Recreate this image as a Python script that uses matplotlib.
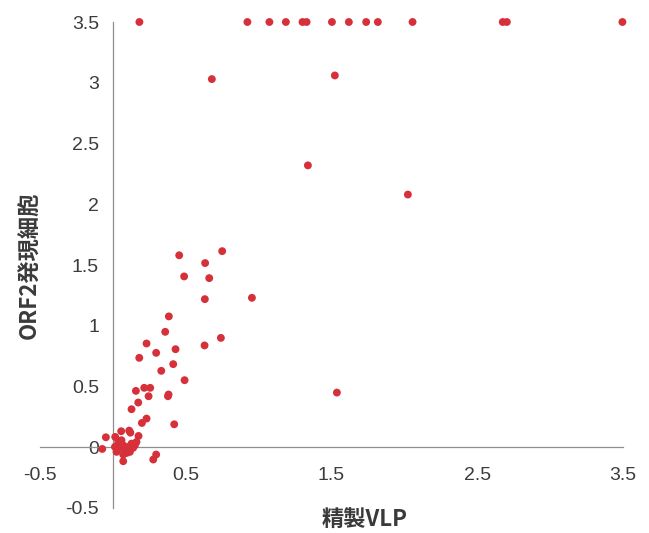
import matplotlib
matplotlib.use("Agg")
import matplotlib.pyplot as plt

# Data: purified VLP (x) vs ORF2-expressing cells (y)
vlp = [0.182, 0.923, 1.074, 1.187, 1.301, 1.329, 1.503, 1.619, 1.738, 1.818, 2.056, 2.675, 2.703, 3.496,
       0.679, 1.523, 1.338, 2.024, 0.954, 1.537,
       0.455, 0.75, 0.633, 0.489, 0.661, 0.631, 0.384, 0.359, 0.231, 0.741, 0.629, 0.430, 0.297,
       0.181, 0.414, 0.332, 0.492, 0.158, 0.215, 0.256, 0.245, 0.382, 0.378, 0.174, 0.128, 0.231,
       0.199, 0.421, -0.048, 0.057, 0.112, 0.12, 0.176, 0.016, -0.073, 0.297, 0.277, 0.071,
       0.014, 0.025, 0.048, 0.071, 0.082, 0.105, 0.117, 0.128, 0.139, 0.151, 0.162, 0.071, 0.094,
       0.037, 0.059]
orf2 = [3.5, 3.5, 3.5, 3.5, 3.5, 3.5, 3.5, 3.5, 3.5, 3.5, 3.5, 3.5, 3.5, 3.5,
        3.03, 3.06, 2.32, 2.08, 1.23, 0.45,
        1.58, 1.614, 1.516, 1.406, 1.392, 1.219, 1.077, 0.95, 0.854, 0.90, 0.838, 0.807, 0.777,
        0.736, 0.684, 0.629, 0.552, 0.464, 0.489, 0.489, 0.42, 0.434, 0.42, 0.368, 0.313, 0.236,
        0.2, 0.189, 0.082, 0.132, 0.137, 0.12, 0.093, 0.085, -0.014, -0.06, -0.101, -0.115,
        0.003, -0.038, -0.005, 0.016, -0.025, 0.003, -0.038, 0.03, -0.005, 0.016, 0.044, -0.06, -0.047,
        0.044, 0.058]

x_ticks = [-0.5, 0.5, 1.5, 2.5, 3.5]
x_tick_labels = ["-0.5", "0.5", "1.5", "2.5", "3.5"]
y_ticks = [-0.5, 0, 0.5, 1, 1.5, 2, 2.5, 3, 3.5]
y_tick_labels = ["-0.5", "0", "0.5", "1", "1.5", "2", "2.5", "3", "3.5"]

x_label = "精製VLP"
y_label = "ORF2発現細胞"

plt.rcParams['font.family'] = ['Liberation Sans', 'DejaVu Sans']

fig = plt.figure(figsize=(6.49, 5.33), dpi=100)
ax = fig.add_axes([40/649, 1-508/533, 583/649, 486/533])

ax.scatter(vlp, orf2, s=32, color='#d6303b', edgecolors='none', zorder=3, clip_on=False)

ax.set_xlim(-0.5, 3.5)
ax.set_ylim(-0.5, 3.5)

for side in ['top', 'right']:
    ax.spines[side].set_visible(False)
ax.spines['left'].set_position(('data', 0))
ax.spines['bottom'].set_position(('data', 0))
for side in ['left', 'bottom']:
    ax.spines[side].set_color('#8f8f8f')
    ax.spines[side].set_linewidth(0.9)

ax.set_xticks(x_ticks)
ax.set_xticklabels(x_tick_labels)
ax.set_yticks(y_ticks)
ax.set_yticklabels(y_tick_labels)
ax.tick_params(axis='x', length=0, pad=14, labelsize=14, labelcolor='#3c3c3c')
ax.tick_params(axis='y', length=0, pad=10, labelsize=14, labelcolor='#3c3c3c')

ax.set_xlabel(x_label, family=['Noto Sans CJK JP', 'DejaVu Sans'], fontweight='bold',
              fontsize=16, color='#3a3a3a')
ax.set_ylabel(y_label, family=['Noto Sans CJK JP', 'DejaVu Sans'], fontweight='bold',
              fontsize=16, color='#3a3a3a')
ax.xaxis.set_label_coords((365-40)/583, (508-509)/486)
ax.yaxis.set_label_coords((42-40)/583, 0.5)

fig.savefig('out.png', dpi=100)
